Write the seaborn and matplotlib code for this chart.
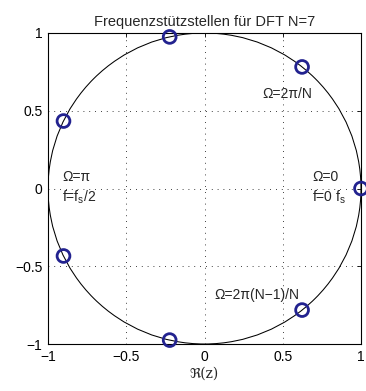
import numpy as np
import pandas as pd
import matplotlib
matplotlib.use("Agg")
import matplotlib.pyplot as plt
import seaborn as sns
from matplotlib.patches import Circle

# Data: DFT sampling points on the unit circle (N=7)
re_vals = [1.0, 0.6235, -0.2225, -0.9010, -0.9010, -0.2225, 0.6235]
im_vals = [0.0, 0.7818, 0.9749, 0.4339, -0.4339, -0.9749, -0.7818]
tick_vals = [-1, -0.5, 0, 0.5, 1]
tick_labels = ["\u22121", "\u22120.5", "0", "0.5", "1"]
title = "Frequenzstützstellen für DFT N=7"

sns.set_style("white")
plt.rcParams["font.family"] = ["Liberation Sans", "DejaVu Sans"]
plt.rcParams["mathtext.fontset"] = "custom"
plt.rcParams["mathtext.rm"] = "Liberation Sans"
plt.rcParams["mathtext.it"] = "Liberation Sans"

df = pd.DataFrame({"re": re_vals, "im": im_vals})

fig = plt.figure(figsize=(3.66, 3.91), dpi=100)
ax = fig.add_axes([48/366, 1-344/391, 313/366, 311/391])

# grid
for v in [-0.5, 0, 0.5]:
    ax.axvline(v, color="black", lw=0.6, ls=(0, (1, 6)), zorder=0)
    ax.axhline(v, color="black", lw=0.6, ls=(0, (1, 6)), zorder=0)

ax.add_patch(Circle((0, 0), 1, fill=False, ec="black", lw=0.75, zorder=1))

sns.scatterplot(data=df, x="re", y="im", ax=ax, marker="o", s=85,
                facecolors="none", edgecolor="#22228f", linewidth=2.0,
                zorder=3, clip_on=False)

ax.set_xlim(-1, 1)
ax.set_ylim(-1, 1)
ax.set_xticks(tick_vals)
ax.set_xticklabels(tick_labels)
ax.set_yticks(tick_vals)
ax.set_yticklabels(tick_labels)
ax.tick_params(direction="in", length=3, width=0.6, top=True, right=True,
               labelsize=10, pad=4, color="black", labelcolor="black")
for s in ax.spines.values():
    s.set_visible(True)
    s.set_color("black")
    s.set_linewidth(0.8)

ax.set_xlabel("\u211c(z)", fontsize=10, labelpad=2,
              fontfamily=["DejaVu Serif", "DejaVu Sans"])
ax.set_ylabel("")
ax.set_title(title, fontsize=10.5, pad=5)

fs = 10
ax.text(0.37, 0.61, "\u03a9=2\u03c0/N", fontsize=fs, va="center", ha="left")
ax.text(-0.91, 0.075, "\u03a9=\u03c0", fontsize=fs, va="center", ha="left")
ax.text(-0.91, -0.055, "f=f$_\\mathregular{s}$/2", fontsize=fs, va="center", ha="left")
ax.text(0.69, 0.075, "\u03a9=0", fontsize=fs, va="center", ha="left")
ax.text(0.69, -0.055, "f=0 f$_\\mathregular{s}$", fontsize=fs, va="center", ha="left")
ax.text(0.065, -0.685, "\u03a9=2\u03c0(N\u22121)/N", fontsize=fs, va="center", ha="left")

fig.savefig("out.png", dpi=100)
